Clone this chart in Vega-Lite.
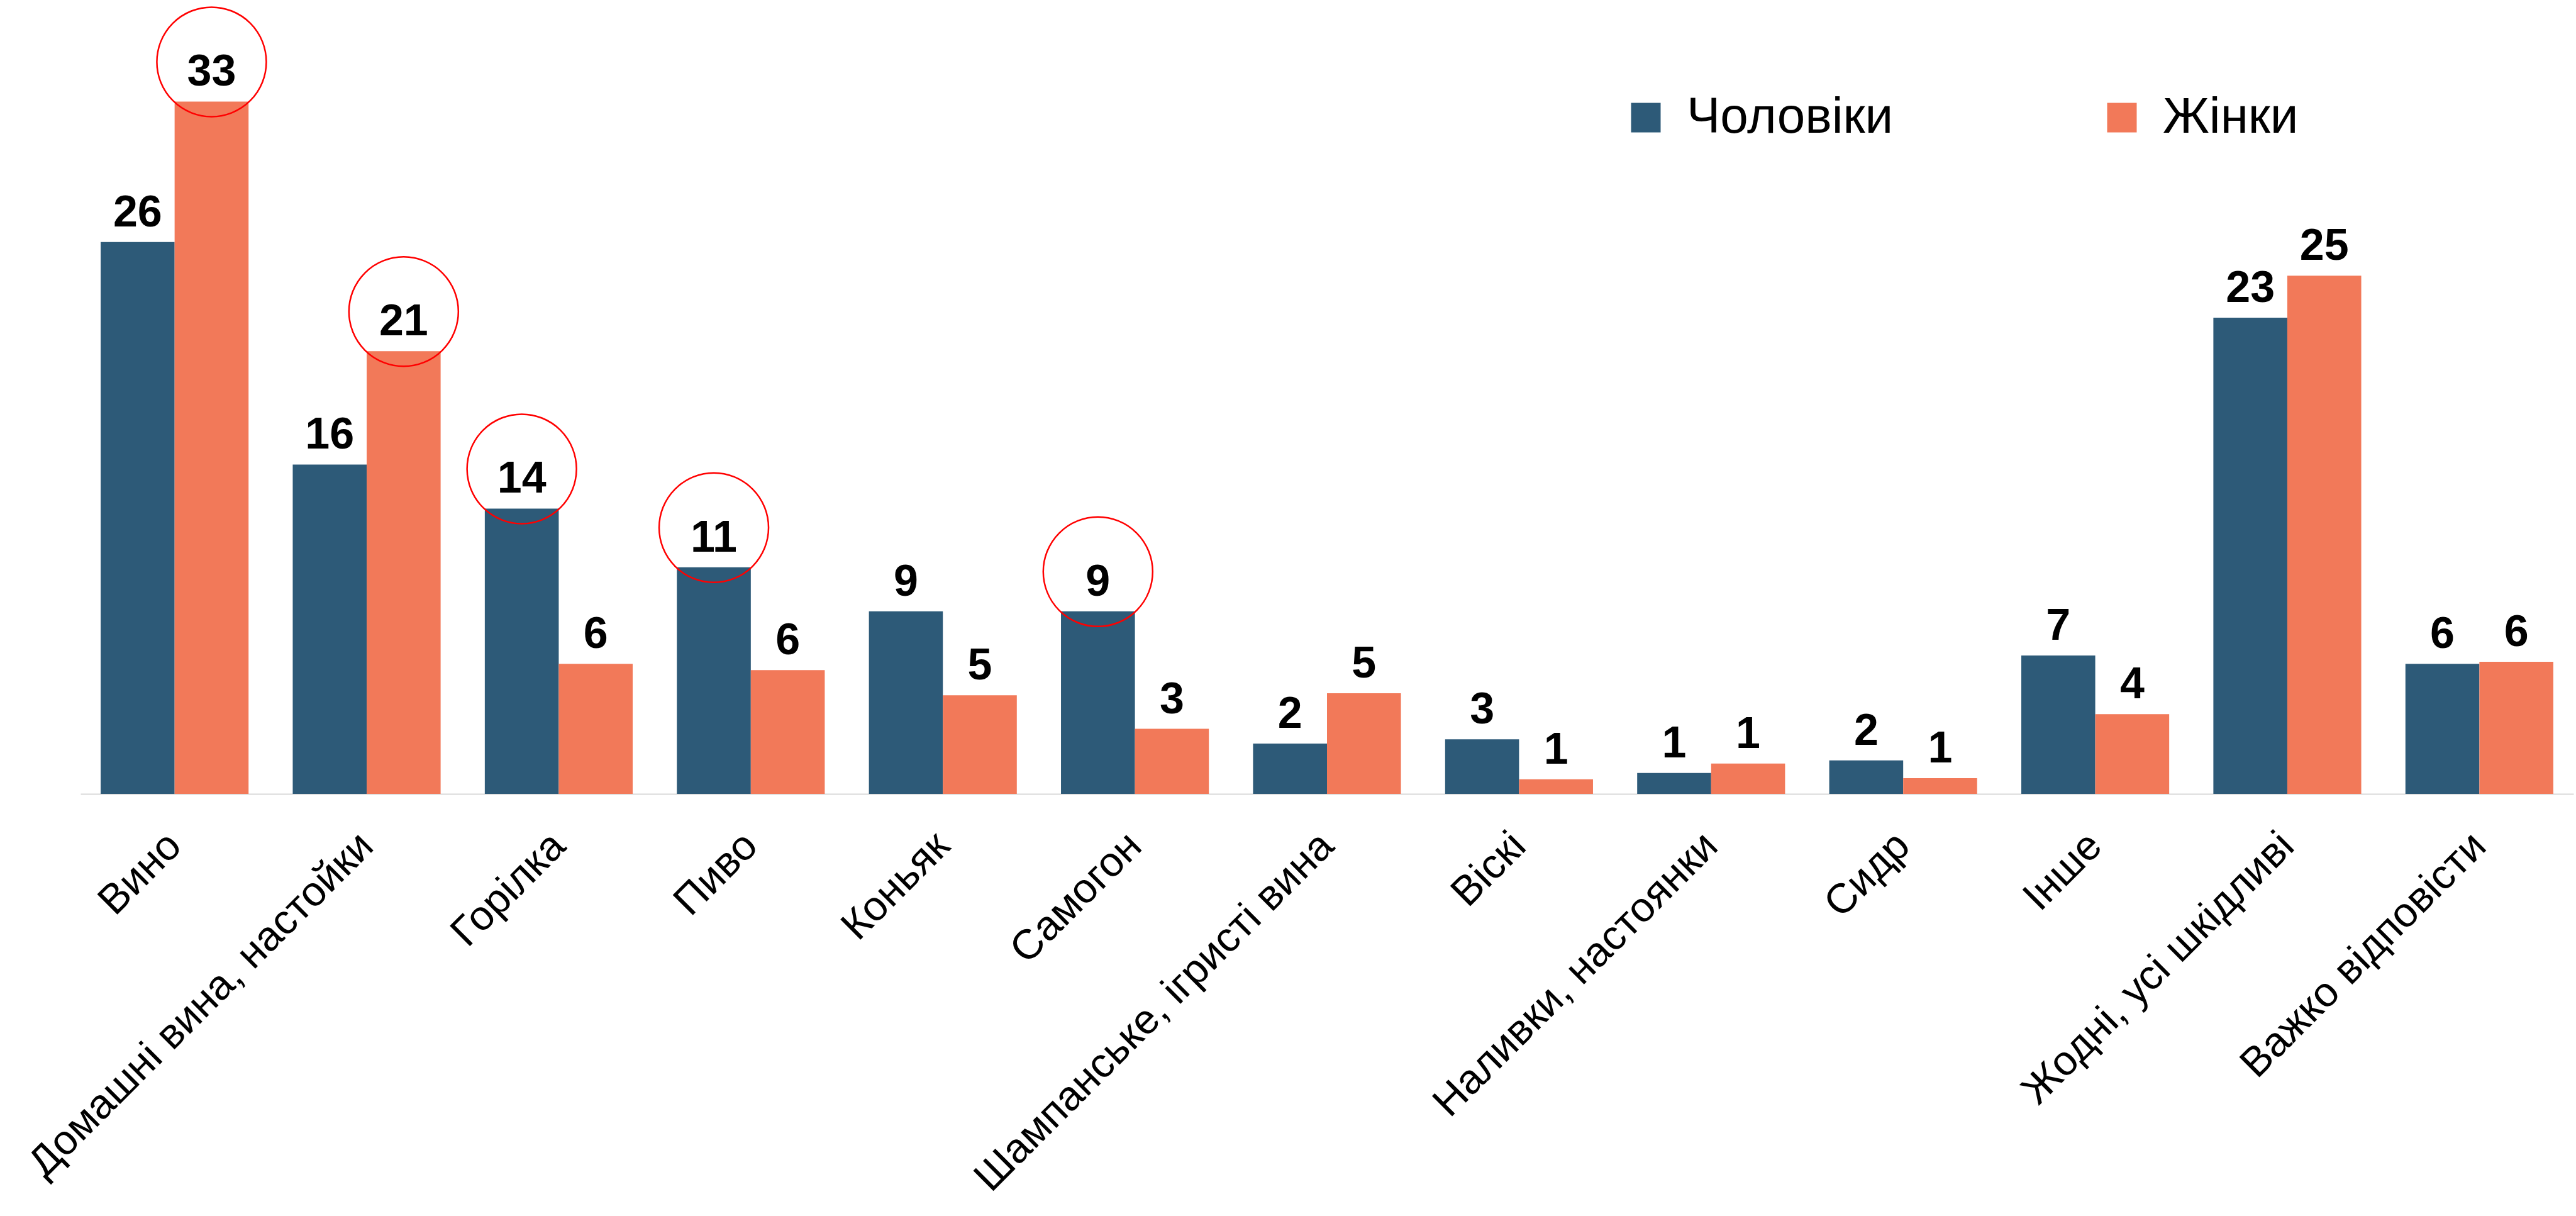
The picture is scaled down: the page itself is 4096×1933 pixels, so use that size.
{
  "$schema": "https://vega.github.io/schema/vega-lite/v6.json",
  "autosize": {"type": "none"},
  "padding": {"left": 128, "top": 0, "right": 4, "bottom": 671},
  "width": 3964,
  "height": 1262,
  "background": "white",
  "config": {
    "view": {"stroke": null},
    "font": "Liberation Sans Narrow, Arial Narrow, Liberation Sans, Arial, sans-serif"
  },
  "data": {
    "values": [
      {"drink": "Вино", "sex": "Чоловіки", "value": 26.3, "circled": false},
      {"drink": "Вино", "sex": "Жінки", "value": 33.0, "circled": true},
      {"drink": "Домашні вина, настойки", "sex": "Чоловіки", "value": 15.7, "circled": false},
      {"drink": "Домашні вина, настойки", "sex": "Жінки", "value": 21.1, "circled": true},
      {"drink": "Горілка", "sex": "Чоловіки", "value": 13.6, "circled": true},
      {"drink": "Горілка", "sex": "Жінки", "value": 6.2, "circled": false},
      {"drink": "Пиво", "sex": "Чоловіки", "value": 10.8, "circled": true},
      {"drink": "Пиво", "sex": "Жінки", "value": 5.9, "circled": false},
      {"drink": "Коньяк", "sex": "Чоловіки", "value": 8.7, "circled": false},
      {"drink": "Коньяк", "sex": "Жінки", "value": 4.7, "circled": false},
      {"drink": "Самогон", "sex": "Чоловіки", "value": 8.7, "circled": true},
      {"drink": "Самогон", "sex": "Жінки", "value": 3.1, "circled": false},
      {"drink": "Шампанське, ігристі вина", "sex": "Чоловіки", "value": 2.4, "circled": false},
      {"drink": "Шампанське, ігристі вина", "sex": "Жінки", "value": 4.8, "circled": false},
      {"drink": "Віскі", "sex": "Чоловіки", "value": 2.6, "circled": false},
      {"drink": "Віскі", "sex": "Жінки", "value": 0.7, "circled": false},
      {"drink": "Наливки, настоянки", "sex": "Чоловіки", "value": 1.0, "circled": false},
      {"drink": "Наливки, настоянки", "sex": "Жінки", "value": 1.45, "circled": false},
      {"drink": "Сидр", "sex": "Чоловіки", "value": 1.6, "circled": false},
      {"drink": "Сидр", "sex": "Жінки", "value": 0.75, "circled": false},
      {"drink": "Інше", "sex": "Чоловіки", "value": 6.6, "circled": false},
      {"drink": "Інше", "sex": "Жінки", "value": 3.8, "circled": false},
      {"drink": "Жодні, усі шкідливі", "sex": "Чоловіки", "value": 22.7, "circled": false},
      {"drink": "Жодні, усі шкідливі", "sex": "Жінки", "value": 24.7, "circled": false},
      {"drink": "Важко відповісти", "sex": "Чоловіки", "value": 6.2, "circled": false},
      {"drink": "Важко відповісти", "sex": "Жінки", "value": 6.3, "circled": false}
    ]
  },
  "encoding": {
    "x": {
      "field": "drink",
      "type": "nominal",
      "sort": null,
      "scale": {"paddingInner": 0.23, "paddingOuter": 0.105},
      "axis": {
        "title": null,
        "labelAngle": -45,
        "labelAlign": "right",
        "labelBaseline": "middle",
        "labelFontSize": 66,
        "labelColor": "black",
        "labelPadding": 72,
        "labelLimit": 3000,
        "labelOverlap": false,
        "ticks": false,
        "domainColor": "#D9D9D9",
        "domainWidth": 2
      }
    },
    "xOffset": {
      "field": "sex",
      "type": "nominal",
      "sort": ["Чоловіки", "Жінки"],
      "scale": {"paddingInner": 0, "paddingOuter": 0}
    },
    "y": {
      "field": "value",
      "type": "quantitative",
      "scale": {"domain": [0, 37.84], "nice": false, "zero": true},
      "axis": null
    }
  },
  "layer": [
    {
      "mark": {"type": "bar"},
      "encoding": {
        "color": {
          "field": "sex",
          "type": "nominal",
          "sort": ["Чоловіки", "Жінки"],
          "scale": {"domain": ["Чоловіки", "Жінки"], "range": ["#2D5A78", "#F27959"]},
          "legend": {
            "orient": "none",
            "legendX": 2449,
            "legendY": 147,
            "direction": "horizontal",
            "title": null,
            "symbolType": "square",
            "symbolSize": 2209,
            "symbolStrokeWidth": 0,
            "symbolOpacity": 1,
            "labelFontSize": 80,
            "labelColor": "black",
            "labelOffset": 25,
            "labelLimit": 1000,
            "columnPadding": 323,
            "padding": 0
          }
        }
      }
    },
    {
      "mark": {"type": "text", "align": "center", "baseline": "alphabetic", "dy": -25, "fontSize": 70, "fontWeight": "bold", "color": "black"},
      "encoding": {
        "text": {"field": "value", "type": "quantitative", "format": ".0f"}
      }
    },
    {
      "transform": [{"filter": "datum.circled"}],
      "mark": {"type": "point", "shape": "circle", "filled": false, "size": 30276, "stroke": "#FF0000", "strokeWidth": 2.5, "yOffset": -63, "opacity": 1},
      "encoding": {}
    }
  ]
}
